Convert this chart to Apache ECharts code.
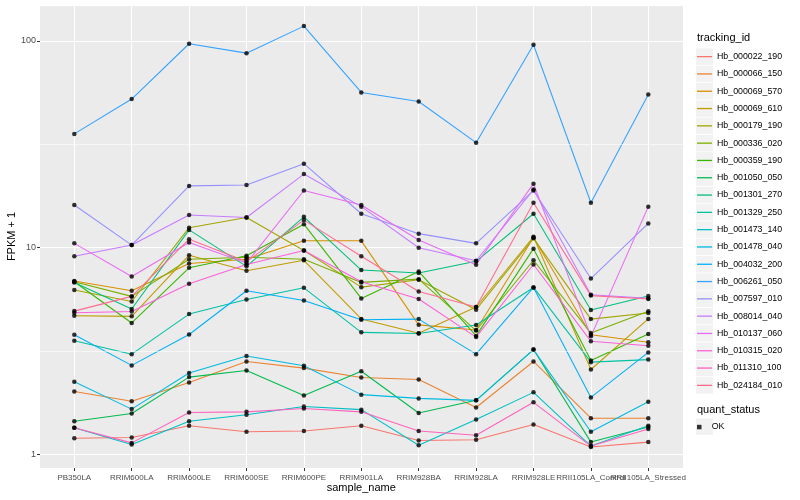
<!DOCTYPE html>
<html><head><meta charset="utf-8">
<script src="https://cdn.jsdelivr.net/npm/echarts@6/dist/echarts.min.js"></script>
<style>html,body{margin:0;padding:0;background:#fff}#c{width:800px;height:500px}</style>
</head><body><div id="c"></div>
<script>
// ---- data ----
const categories = ['PB350LA','RRIM600LA','RRIM600LE','RRIM600SE','RRIM600PE','RRIM901LA','RRIM928BA','RRIM928LA','RRIM928LE','RRII105LA_Control','RRII105LA_Stressed'];
const Hb_000022_190 = [1.20, 1.21, 1.38, 1.29, 1.30, 1.38, 1.17, 1.18, 1.40, 1.09, 1.15];
const Hb_000066_150 = [2.02, 1.81, 2.23, 2.82, 2.62, 2.36, 2.31, 1.69, 2.82, 1.50, 1.50];
const Hb_000069_570 = [6.90, 6.20, 8.40, 8.80, 10.8, 10.8, 4.24, 4.00, 11.2, 3.80, 3.49];
const Hb_000069_610 = [4.69, 4.66, 9.20, 7.74, 8.70, 4.53, 3.86, 5.17, 11.3, 2.58, 4.53];
const Hb_000179_190 = [6.25, 5.50, 12.5, 14.0, 9.70, 6.45, 7.00, 5.02, 11.1, 4.52, 4.84];
const Hb_000336_020 = [6.85, 5.82, 8.80, 9.00, 8.80, 6.80, 7.05, 3.98, 8.70, 3.87, 4.93];
const Hb_000359_190 = [6.85, 4.33, 8.00, 9.15, 13.0, 5.69, 7.68, 3.75, 9.90, 2.85, 3.83];
const Hb_001050_050 = [1.45, 1.58, 2.37, 2.55, 1.93, 2.53, 1.59, 1.83, 3.22, 1.15, 1.36];
const Hb_001301_270 = [6.80, 5.06, 12.2, 8.13, 14.1, 7.80, 7.55, 8.60, 14.6, 5.00, 5.85];
const Hb_001329_250 = [3.55, 3.06, 4.78, 5.62, 6.40, 3.90, 3.85, 4.23, 6.43, 2.80, 2.88];
const Hb_001473_140 = [1.35, 1.12, 1.45, 1.56, 1.71, 1.65, 1.11, 1.48, 2.00, 1.10, 1.38];
const Hb_001478_040 = [2.25, 1.66, 2.48, 3.00, 2.69, 1.95, 1.87, 1.83, 3.22, 1.29, 1.80];
const Hb_004032_200 = [3.80, 2.70, 3.81, 6.20, 5.56, 4.49, 4.52, 3.06, 6.43, 1.89, 3.12];
const Hb_006261_050 = [35.5, 52.3, 96.8, 87.2, 117.8, 56.3, 50.9, 32.2, 95.7, 16.5, 55.0];
const Hb_007597_010 = [16.1, 10.3, 19.9, 20.1, 25.5, 14.6, 11.7, 10.5, 18.9, 7.10, 13.1];
const Hb_008014_040 = [9.10, 10.3, 14.4, 14.0, 22.7, 15.8, 10.0, 8.65, 19.1, 5.93, 5.70];
const Hb_010137_060 = [10.5, 7.26, 10.6, 8.43, 18.9, 16.1, 10.9, 8.27, 20.4, 3.73, 15.8];
const Hb_010315_020 = [4.85, 4.92, 6.70, 8.30, 9.70, 6.85, 5.65, 3.70, 8.30, 3.53, 3.36];
const Hb_011310_100 = [1.35, 1.14, 1.60, 1.61, 1.67, 1.61, 1.30, 1.24, 1.79, 1.10, 1.33];
const Hb_024184_010 = [4.94, 5.82, 11.0, 8.57, 13.6, 9.10, 6.15, 5.17, 16.5, 5.87, 5.65];

const trackingIds = ['Hb_000022_190','Hb_000066_150','Hb_000069_570','Hb_000069_610','Hb_000179_190','Hb_000336_020','Hb_000359_190','Hb_001050_050','Hb_001301_270','Hb_001329_250','Hb_001473_140','Hb_001478_040','Hb_004032_200','Hb_006261_050','Hb_007597_010','Hb_008014_040','Hb_010137_060','Hb_010315_020','Hb_011310_100','Hb_024184_010'];
const seriesValues = [Hb_000022_190,Hb_000066_150,Hb_000069_570,Hb_000069_610,Hb_000179_190,Hb_000336_020,Hb_000359_190,Hb_001050_050,Hb_001301_270,Hb_001329_250,Hb_001473_140,Hb_001478_040,Hb_004032_200,Hb_006261_050,Hb_007597_010,Hb_008014_040,Hb_010137_060,Hb_010315_020,Hb_011310_100,Hb_024184_010];
const quantStatus = ['OK'];
const minorBreaks = [3.1623, 31.623];
const yMin = 0.862, yMax = 149;

// ---- style ----
const palette = ['#F8766D','#EA8331','#D89000','#C09B00','#A3A500','#7CAE00','#39B600','#00BB4E','#00BF7D','#00C1A3','#00BFC4','#00BAE0','#00B0F6','#35A2FF','#9590FF','#C77CFF','#E76BF3','#FA62DB','#FF62BC','#FF6C91'];
const FONT = '"Liberation Sans", Arial, Helvetica, sans-serif';
const legendTop = 48, legendStep = 17.3;

const chart = echarts.init(document.getElementById('c'));

const lineSeries = trackingIds.map((id, i) => ({
  name: id, type: 'line', xAxisIndex: 0, yAxisIndex: 0,
  data: seriesValues[i], showSymbol: false, symbol: 'none',
  lineStyle: { width: 1.07, color: palette[i] }, itemStyle: { color: palette[i] },
  silent: true, z: 3, emphasis: { disabled: true }
}));
const pts = [];
seriesValues.forEach(vals => vals.forEach((v, j) => pts.push([j, v])));

const graphics = [
  { type: 'text', x: 697, y: 38, style: { text: 'tracking_id', font: '11px ' + FONT, fill: '#000', verticalAlign: 'middle' } },
  { type: 'text', x: 697, y: 410, style: { text: 'quant_status', font: '11px ' + FONT, fill: '#000', verticalAlign: 'middle' } }
];
trackingIds.forEach((id, i) => graphics.push({ type: 'rect', z: -1, shape: { x: 696, y: legendTop + legendStep * i + 0.4, width: 17, height: 16.5 }, style: { fill: '#F2F2F2' } }));
graphics.push({ type: 'rect', z: -1, shape: { x: 696, y: 418.4, width: 17, height: 16.5 }, style: { fill: '#F2F2F2' } });

chart.setOption({
  animation: false,
  backgroundColor: '#fff',
  textStyle: { fontFamily: FONT },
  grid: [
    { left: 74.3, right: 151.7, top: 5, bottom: 32, containLabel: false, outerBoundsMode: 'none' },
    { left: 40, right: 117, top: 5, bottom: 32, show: true, backgroundColor: '#EBEBEB', borderWidth: 0, containLabel: false, outerBoundsMode: 'none' }
  ],
  xAxis: [
    { type: 'category', gridIndex: 0, data: categories, boundaryGap: false,
      axisLine: { show: false },
      axisTick: { show: true, length: 3, lineStyle: { color: '#333', width: 1 } },
      axisLabel: { interval: 0, fontSize: 8, color: '#4D4D4D', margin: 5.5, fontFamily: FONT },
      splitLine: { show: true, lineStyle: { color: '#fff', width: 1.07 } },
      name: 'sample_name', nameLocation: 'middle', nameGap: 14, nameMoveOverlap: false,
      nameTextStyle: { fontSize: 11, color: '#000', fontFamily: FONT } },
    { type: 'value', gridIndex: 1, min: 0, max: 1, show: false }
  ],
  yAxis: [
    { type: 'log', gridIndex: 0, min: yMin, max: yMax, show: false },
    { type: 'log', gridIndex: 1, min: yMin, max: yMax, logBase: 10,
      axisLine: { show: false },
      axisTick: { show: true, length: 3, lineStyle: { color: '#333', width: 1 } },
      axisLabel: { fontSize: 9, color: '#4D4D4D', margin: 4, showMinLabel: false, showMaxLabel: false, fontFamily: FONT },
      splitLine: { show: true, lineStyle: { color: '#fff', width: 1.07 } },
      name: 'FPKM + 1', nameLocation: 'middle', nameGap: 22.5, nameMoveOverlap: false,
      nameTextStyle: { fontSize: 11, color: '#000', fontFamily: FONT } }
  ],
  legend: [
    { data: trackingIds.map((n, i) => ({ name: n, icon: 'rect', itemStyle: { color: palette[i] } })),
      orient: 'vertical', left: 697, top: legendTop, padding: 0, itemGap: 0,
      itemWidth: 15, itemHeight: 1.3, selectedMode: false,
      textStyle: { fontSize: 8.8, lineHeight: legendStep, color: '#000', fontFamily: FONT } },
    { data: quantStatus.map(n => ({ name: n, icon: 'path://M0,0h1v1h-1z', itemStyle: { color: '#000' } })),
      orient: 'vertical', left: 697, top: 418.4, padding: 0, itemGap: 0,
      itemWidth: 15, itemHeight: 4.5, selectedMode: false,
      textStyle: { fontSize: 8.8, lineHeight: legendStep, color: '#000', fontFamily: FONT } }
  ],
  graphic: graphics,
  series: [
    { type: 'line', name: '_minor', xAxisIndex: 1, yAxisIndex: 1, data: [[0, 1], [1, 1]],
      showSymbol: false, lineStyle: { opacity: 0 }, silent: true, z: 1,
      markLine: { silent: true, symbol: ['none', 'none'], label: { show: false },
        lineStyle: { color: '#fff', width: 0.55, type: 'solid' },
        emphasis: { disabled: true },
        data: minorBreaks.map(v => ({ yAxis: v })) } },
    ...lineSeries,
    { type: 'scatter', name: 'OK', xAxisIndex: 0, yAxisIndex: 0, data: pts,
      symbol: 'circle', symbolSize: 4.5, itemStyle: { color: '#000' }, silent: true, z: 5 }
  ]
});
</script></body></html>
